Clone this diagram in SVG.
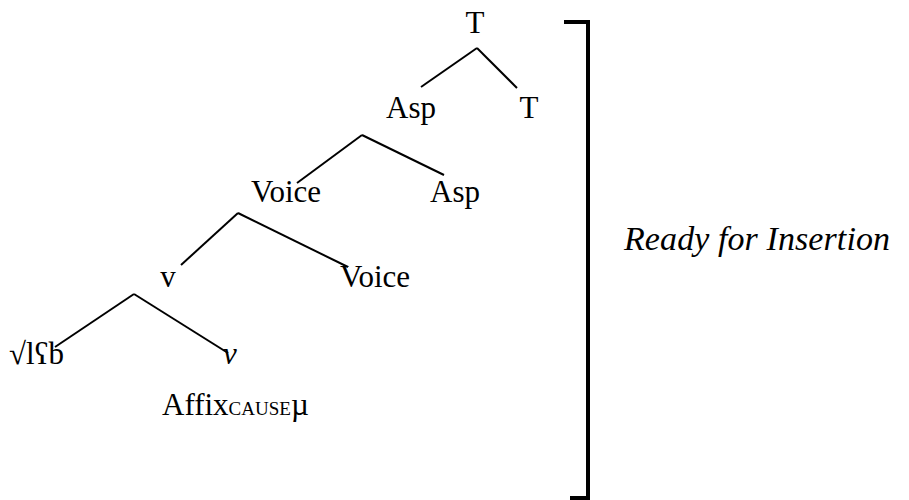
<svg xmlns="http://www.w3.org/2000/svg" width="909" height="500" viewBox="0 0 909 500">
<style>
text{font-family:"Liberation Serif","Times New Roman",serif;font-size:31px;fill:#000}
.c{text-anchor:middle}
.i{font-style:italic}
.lbl{font-size:34px;font-style:italic}
.sc{font-size:19px}
.e{stroke:#000;stroke-width:2;fill:none}
</style>
<rect width="909" height="500" fill="#fff"/>
<g id="edges">
<line class="e" x1="477" y1="48" x2="421" y2="87"/>
<line class="e" x1="477" y1="48" x2="517" y2="88"/>
<line class="e" x1="362" y1="135" x2="297" y2="183"/>
<line class="e" x1="362" y1="135" x2="444" y2="175"/>
<line class="e" x1="238" y1="213" x2="181" y2="265"/>
<line class="e" x1="238" y1="213" x2="348" y2="267"/>
<line class="e" x1="134" y1="294" x2="55" y2="347"/>
<line class="e" x1="134" y1="294" x2="228" y2="353"/>
</g>
<g id="T-top"><text class="c" x="475" y="33">T</text></g>
<g id="Asp-1"><text class="c" x="411" y="118">Asp</text></g>
<g id="T-head"><text class="c" x="529" y="118">T</text></g>
<g id="Voice-1"><text class="c" x="286" y="202">Voice</text></g>
<g id="Asp-head"><text class="c" x="455" y="202">Asp</text></g>
<g id="v-1"><text class="c" x="168" y="287">v</text></g>
<g id="Voice-head"><text class="c" x="375" y="287">Voice</text></g>
<g id="root"><text x="9" y="364">√lʕb</text></g>
<g id="v-head"><text class="c i" x="230" y="364">v</text></g>
<g id="affix"><text x="162" y="415">Affix<tspan class="sc">CAUSE</tspan>µ</text></g>
<g id="bracket"><path d="M564 22 H588 V498 H570" fill="none" stroke="#000" stroke-width="4"/></g>
<g id="label"><text class="lbl" x="624" y="250" textLength="266">Ready for Insertion</text></g>
</svg>
